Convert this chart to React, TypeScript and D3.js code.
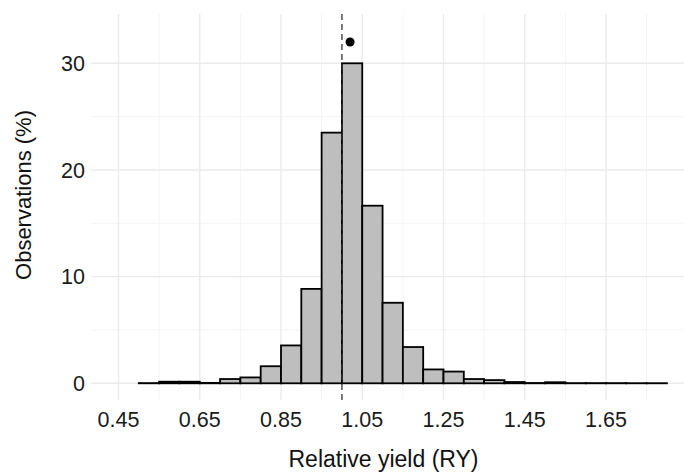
import React from "react";
import * as d3 from "d3";

const binStarts = [0.5, 0.55, 0.6, 0.65, 0.7, 0.75, 0.8, 0.85, 0.9, 0.95, 1.0, 1.05, 1.1, 1.15, 1.2, 1.25, 1.3, 1.35, 1.4, 1.45, 1.5, 1.55, 1.6, 1.65, 1.7, 1.75];
const observationsPct = [0.02, 0.15, 0.15, 0.04, 0.4, 0.55, 1.6, 3.55, 8.85, 23.5, 30.0, 16.65, 7.55, 3.4, 1.3, 1.1, 0.4, 0.3, 0.12, 0.03, 0.1, 0.02, 0.02, 0.02, 0.01, 0.01];
const binWidth = 0.05;
const xTicks = [0.45, 0.65, 0.85, 1.05, 1.25, 1.45, 1.65];
const xMinor = [0.55, 0.75, 0.95, 1.15, 1.35, 1.55, 1.75];
const yTicks = [0, 10, 20, 30];
const yMinor = [5, 15, 25];
const refLineX = [1.0];
const pointX = [1.02];
const pointY = [32];
const xTitle = "Relative yield (RY)";
const yTitle = "Observations (%)";

const W = 684;
const H = 474;
const panel = { left: 91, right: 684, top: 14, bottom: 400 };

export default function App() {
  const x = d3.scaleLinear().domain([0.45, 1.65]).range([118.5, 606]);
  const y = d3.scaleLinear().domain([0, 30]).range([383.3, 63.3]);
  const font = "'Liberation Sans', Arial, sans-serif";

  return (
    <svg width={W} height={H} style={{ position: "absolute", left: 0, top: 0, background: "#fff" }} fontFamily={font}>
      <rect x={0} y={0} width={W} height={H} fill="#fff" />
      {/* minor grid */}
      {yMinor.map((v) => (
        <line key={"ym" + v} x1={panel.left} x2={panel.right} y1={y(v)} y2={y(v)} stroke="#f4f4f4" strokeWidth={1} />
      ))}
      {xMinor.map((v) => (
        <line key={"xm" + v} x1={x(v)} x2={x(v)} y1={panel.top} y2={panel.bottom} stroke="#f4f4f4" strokeWidth={1} />
      ))}
      {/* major grid */}
      {yTicks.map((v) => (
        <line key={"yg" + v} x1={panel.left} x2={panel.right} y1={y(v)} y2={y(v)} stroke="#ebebeb" strokeWidth={1.4} />
      ))}
      {xTicks.map((v) => (
        <line key={"xg" + v} x1={x(v)} x2={x(v)} y1={panel.top} y2={panel.bottom} stroke="#ebebeb" strokeWidth={1.4} />
      ))}
      {/* bars */}
      {binStarts.map((b, i) => (
        <rect
          key={"bar" + i}
          x={x(b)}
          y={y(observationsPct[i])}
          width={x(b + binWidth) - x(b)}
          height={y(0) - y(observationsPct[i])}
          fill="#bebebe"
          stroke="#000"
          strokeWidth={1.8}
        />
      ))}
      {/* reference line */}
      {refLineX.map((v) => (
        <line key={"ref" + v} x1={x(v)} x2={x(v)} y1={panel.top} y2={panel.bottom} stroke="#333" strokeWidth={1.3} strokeDasharray="6,4" />
      ))}
      {/* point */}
      {pointX.map((v, i) => (
        <circle key={"pt" + i} cx={x(v)} cy={y(pointY[i])} r={4.5} fill="#000" />
      ))}
      {/* axis labels */}
      {xTicks.map((v) => (
        <text key={"xt" + v} x={x(v)} y={426.5} textAnchor="middle" fontSize={21.5} fill="#1a1a1a">
          {v.toFixed(2)}
        </text>
      ))}
      {yTicks.map((v) => (
        <text key={"yt" + v} x={85} y={y(v)} dy="0.36em" textAnchor="end" fontSize={21.5} fill="#1a1a1a">
          {v}
        </text>
      ))}
      <text x={(panel.left + panel.right) / 2 - 4} y={466.5} textAnchor="middle" fontSize={23} fill="#111">
        {xTitle}
      </text>
      <text transform={`translate(31,195) rotate(-90)`} textAnchor="middle" fontSize={22} fill="#111">
        {yTitle}
      </text>
    </svg>
  );
}
